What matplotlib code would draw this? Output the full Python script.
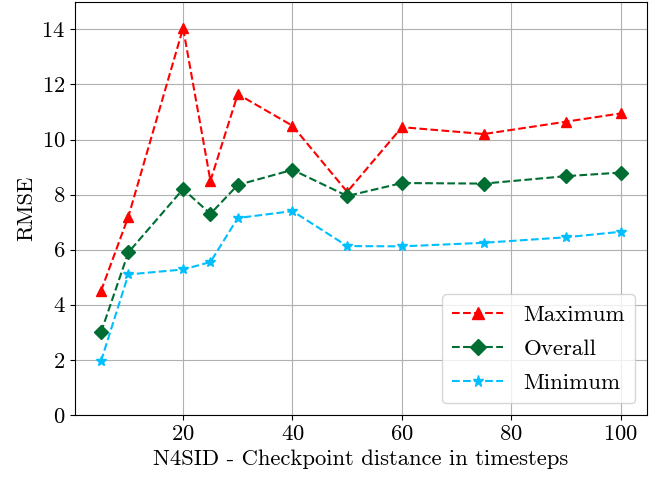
import matplotlib
matplotlib.use("Agg")
import matplotlib.pyplot as plt

plt.rcParams["font.family"] = "serif"
plt.rcParams["font.serif"] = ["cmr10"]
plt.rcParams["mathtext.fontset"] = "cm"
plt.rcParams["axes.formatter.use_mathtext"] = True
plt.rcParams["font.size"] = 16.3

distance = [5, 10, 20, 25, 30, 40, 50, 60, 75, 90, 100]
rmse_max = [4.5, 7.2, 14.05, 8.5, 11.65, 10.5, 8.1, 10.45, 10.2, 10.65, 10.95]
rmse_overall = [3.0, 5.9, 8.2, 7.3, 8.35, 8.9, 7.95, 8.42, 8.4, 8.67, 8.8]
rmse_min = [1.95, 5.1, 5.28, 5.55, 7.15, 7.4, 6.13, 6.12, 6.25, 6.45, 6.65]

fig, ax = plt.subplots(figsize=(6.64, 4.79), dpi=100)
fig.subplots_adjust(left=0.113, right=0.974, top=0.996, bottom=0.134)

ax.plot(distance, rmse_max, "--", color="#ff0000", marker="^", markersize=7, label="Maximum")
ax.plot(distance, rmse_overall, "--", color="#006d32", marker="D", markersize=7, label="Overall")
ax.plot(distance, rmse_min, "--", color="#00bfff", marker="*", markersize=7, label="Minimum")

ax.set_ylim(0, 15)
ax.set_yticks([0, 2, 4, 6, 8, 10, 12, 14])
ax.set_xticks([20, 40, 60, 80, 100])
ax.grid(True, color="#b0b0b0", linewidth=0.8)
ax.set_axisbelow(True)
ax.set_xlabel("N4SID - Checkpoint distance in timesteps")
ax.set_ylabel("RMSE")
ax.legend(loc="lower right", fontsize=16.5, labelspacing=0.62, handlelength=2.2,
          handletextpad=0.9, borderpad=0.45, markerscale=1.15)

fig.savefig("out.png", dpi=100)
